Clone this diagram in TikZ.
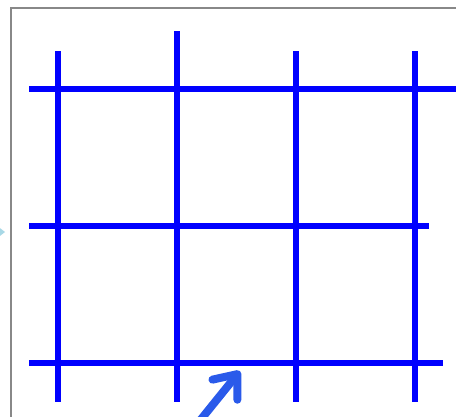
\documentclass[tikz,border=0pt]{standalone}
\usetikzlibrary{arrows.meta}
\definecolor{gridblue}{HTML}{0000FF}
\definecolor{arrowblue}{HTML}{2A5AEA}
\definecolor{framegray}{HTML}{888888}
\definecolor{tipcyan}{HTML}{A8D8E6}
\tikzset{
  gridline/.style={draw=gridblue, line width=5.8pt},
  framebox/.style={draw=framegray, line width=2pt},
  pointer/.style={draw=arrowblue, line width=8pt, line cap=round,
    -{Straight Barb[length=20pt, width=32pt, round]}},
}
\begin{document}
\begin{tikzpicture}[x=1pt, y=-1pt]
\useasboundingbox (0,0) rectangle (456,416);
\clip (0,0) rectangle (456,416);
\fill[white] (0,0) rectangle (456,416);
% frame
\draw[framebox] (11,8) rectangle (480,440);
% cyan tip at left
\fill[tipcyan] (-4,225) -- (5,232) -- (-4,239) -- cycle;
% vertical lines
\draw[gridline] (58,51) -- (58,402);
\draw[gridline] (177,31) -- (177,402);
\draw[gridline] (296,51) -- (296,402);
\draw[gridline] (415,51) -- (415,402);
% horizontal lines
\draw[gridline] (29,89) -- (470,89);
\draw[gridline] (29,226) -- (429,226);
\draw[gridline] (29,363) -- (443,363);
% arrow
\coordinate (tail) at (194,428);
\coordinate (tip) at (240,371);
\draw[pointer] (tail) -- (tip);
\end{tikzpicture}
\end{document}
